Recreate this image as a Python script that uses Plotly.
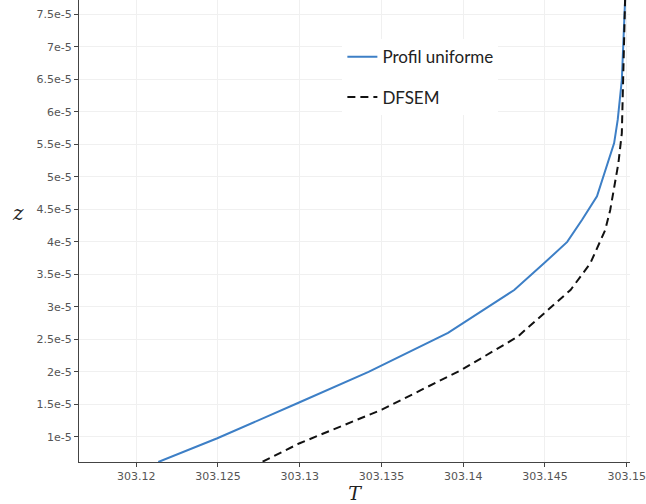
import plotly.graph_objects as go

# Temperature profiles T(z) near the wall
t_uniform = [303.12135, 303.12496, 303.12996, 303.13421, 303.13907, 303.14312,
             303.14494, 303.14636, 303.14727, 303.14818, 303.14923, 303.14945,
             303.1497, 303.1499]
z_uniform = [6.15e-6, 0.98e-5, 1.53e-5, 2.0e-5, 2.6e-5, 3.26e-5,
             3.67e-5, 4.0e-5, 4.34e-5, 4.70e-5, 5.52e-5, 5.88e-5,
             6.49e-5, 7.72e-5]

t_dfsem = [303.12773, 303.12996, 303.13502, 303.13988, 303.14332, 303.14514,
           303.14656, 303.14777, 303.14868, 303.14899, 303.14949, 303.1497,
           303.1498, 303.1499]
z_dfsem = [6.2e-6, 0.90e-5, 1.42e-5, 2.03e-5, 2.54e-5, 2.95e-5,
           3.26e-5, 3.67e-5, 4.18e-5, 4.49e-5, 5.21e-5, 5.67e-5,
           6.85e-5, 7.72e-5]

x_ticks = [303.12, 303.125, 303.13, 303.135, 303.14, 303.145, 303.15]
x_labels = ["303.12", "303.125", "303.13", "303.135", "303.14", "303.145", "303.15"]
y_ticks = [1e-5, 1.5e-5, 2e-5, 2.5e-5, 3e-5, 3.5e-5, 4e-5, 4.5e-5,
           5e-5, 5.5e-5, 6e-5, 6.5e-5, 7e-5, 7.5e-5]
y_labels = ["1e-5", "1.5e-5", "2e-5", "2.5e-5", "3e-5", "3.5e-5", "4e-5", "4.5e-5",
            "5e-5", "5.5e-5", "6e-5", "6.5e-5", "7e-5", "7.5e-5"]

fig = go.Figure()
fig.add_trace(go.Scatter(
    x=t_uniform, y=z_uniform, mode="lines", name="Profil uniforme",
    legendgroup="a", line=dict(color="#3d7fc6", width=2)))
fig.add_trace(go.Scatter(
    x=t_dfsem, y=z_dfsem, mode="lines", name="DFSEM",
    legendgroup="b", line=dict(color="#111111", width=2, dash="8px,5px")))

axis_common = dict(
    showline=True, linecolor="#444", linewidth=1,
    ticks="outside", ticklen=4, tickcolor="#444",
    showgrid=True, gridcolor="#f0f0f0", gridwidth=1,
    zeroline=False,
    ticklabeloverflow="allow",
    tickfont=dict(family="DejaVu Sans, Arial", size=11, color="#555"),
)

serif = "DejaVu Serif, Liberation Serif"

fig.update_layout(
    width=646, height=504,
    margin=dict(l=79, r=13, t=0, b=42),
    paper_bgcolor="white", plot_bgcolor="white",
    showlegend=True,
    legend=dict(
        x=0.478, y=0.915, xanchor="left", yanchor="top",
        bgcolor="white", borderwidth=0,
        font=dict(family="Lato, Open Sans", size=17, color="#222"),
        tracegroupgap=15,
    ),
    xaxis=dict(
        range=[303.1165, 303.1502],
        tickvals=x_ticks, ticktext=x_labels,
        title=dict(text="<i>T</i>", font=dict(family=serif, size=19, color="#222"),
                   standoff=6),
        **axis_common,
    ),
    yaxis=dict(
        range=[6.15e-6, 7.72e-5],
        tickvals=y_ticks, ticktext=y_labels,
        **axis_common,
    ),
    annotations=[dict(
        text="<i>z</i>", xref="paper", yref="paper",
        x=-0.11, y=0.54, xanchor="center", yanchor="middle",
        showarrow=False, font=dict(family=serif, size=20, color="#222"),
    )],
)

fig.write_html("out.html")
